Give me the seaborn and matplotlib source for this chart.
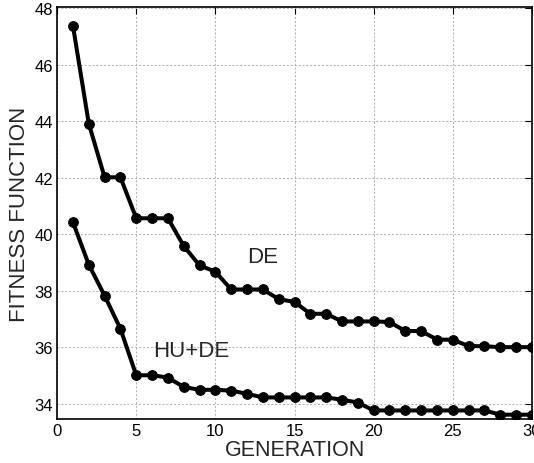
import matplotlib
matplotlib.use("Agg")
import matplotlib.pyplot as plt
import pandas as pd
import seaborn as sns

generation = list(range(1, 31))
de_fitness = [47.38, 43.92, 42.02, 42.02, 40.57, 40.57, 40.57, 39.59, 38.90, 38.68,
              38.05, 38.05, 38.05, 37.71, 37.61, 37.19, 37.19, 36.92, 36.92, 36.92,
              36.90, 36.58, 36.58, 36.28, 36.27, 36.05, 36.04, 36.01, 36.01, 36.01]
hude_fitness = [40.43, 38.93, 37.83, 36.66, 35.01, 35.02, 34.93, 34.60, 34.50, 34.50,
                34.47, 34.36, 34.23, 34.23, 34.23, 34.23, 34.23, 34.15, 34.05, 33.77,
                33.77, 33.77, 33.77, 33.77, 33.77, 33.77, 33.77, 33.62, 33.62, 33.62]
x_ticks = [0, 5, 10, 15, 20, 25, 30]
y_ticks = [34, 36, 38, 40, 42, 44, 46, 48]

df = pd.DataFrame({
    "Generation": generation * 2,
    "Fitness": de_fitness + hude_fitness,
    "Method": ["DE"] * 30 + ["HU+DE"] * 30,
})

sns.set_style("white")
plt.rcParams["font.family"] = ["Liberation Sans", "DejaVu Sans"]

fig = plt.figure(figsize=(5.34, 4.64), dpi=100)
ax = fig.add_axes([0.107, 0.095, 0.889, 0.888])

sns.lineplot(data=df, x="Generation", y="Fitness", units="Method", estimator=None,
             color="black", linewidth=2.9, marker="o", markersize=7,
             markeredgecolor="black", ax=ax)

ax.set_xlim(0, 30)
ax.set_ylim(33.47, 48.05)
ax.set_xticks(x_ticks)
ax.set_yticks(y_ticks)
ax.grid(True, linestyle=(0, (2, 2)), color="#b0b0b0", linewidth=0.7)
ax.tick_params(direction="in", length=5, labelsize=12, colors="black",
               top=True, right=True, pad=3)
for s in ax.spines.values():
    s.set_color("black")
    s.set_linewidth(1.2)

ax.set_xlabel("GENERATION", fontsize=15.5, labelpad=1)
ax.set_ylabel("FITNESS FUNCTION", fontsize=16, labelpad=3)

ax.text(13.0, 39.2, "DE", fontsize=16, ha="center", va="center")
ax.text(8.5, 35.9, "HU+DE", fontsize=16, ha="center", va="center")

fig.savefig("out.png", dpi=100)
